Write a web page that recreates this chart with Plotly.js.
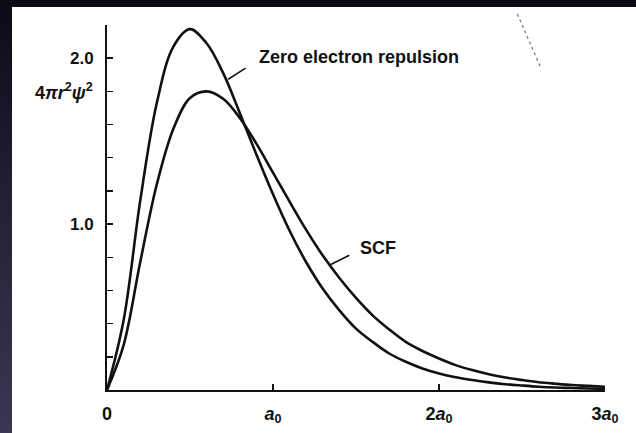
<!DOCTYPE html>
<html>
<head>
<meta charset="utf-8">
<script src="https://cdn.plot.ly/plotly-3.0.1.min.js"></script>
<style>
  html, body { margin: 0; padding: 0; width: 636px; height: 433px; overflow: hidden; background: #0b0b14; }
  #leftband { position: absolute; left: 0; top: 0; width: 12px; height: 433px;
              background: linear-gradient(to bottom, #0b0b16 0%, #242238 50%, #3b3652 100%); }
  #chart { position: absolute; left: 12px; top: 7px; width: 624px; height: 426px; background: #fff; }
</style>
</head>
<body>
<div id="leftband"></div>
<div id="chart"></div>
<script>
// radius in units of a0
const radius = [0, 0.1, 0.2, 0.3, 0.4, 0.5, 0.6, 0.7, 0.8, 0.9, 1.0, 1.1, 1.2, 1.3, 1.4, 1.5,
                1.6, 1.7, 1.8, 1.9, 2.0, 2.1, 2.2, 2.3, 2.4, 2.5, 2.6, 2.7, 2.8, 2.9, 3.0];
// radial density 4πr²ψ², no electron repulsion (taller, narrower)
const zeroRepulsion = [0, 0.42, 1.14, 1.73, 2.07, 2.175, 2.09, 1.91, 1.67, 1.42, 1.18, 0.96, 0.77, 0.61, 0.48, 0.37,
                       0.29, 0.22, 0.17, 0.13, 0.10, 0.077, 0.06, 0.046, 0.035, 0.027, 0.02, 0.015, 0.012, 0.009, 0.007];
// radial density, SCF (lower, wider)
const scf = [0, 0.27, 0.77, 1.24, 1.575, 1.76, 1.80, 1.755, 1.64, 1.485, 1.31, 1.135, 0.965, 0.81, 0.675, 0.555,
             0.45, 0.365, 0.29, 0.235, 0.19, 0.15, 0.12, 0.095, 0.075, 0.06, 0.047, 0.038, 0.03, 0.025, 0.02];

const xTickVals = [0, 1, 2, 3];
const xTickText = ['0', '<i>a</i><sub>0</sub>', '2<i>a</i><sub>0</sub>', '3<i>a</i><sub>0</sub>'];
const yTickVals = [1.0, 2.0];
const yTickText = ['1.0', '2.0'];
const yMinorTicks = [0.2, 0.4, 0.6, 0.8, 1.2, 1.4, 1.6, 1.8, 2.2];
const yLabel = '4<i>πr</i><sup>2</sup><i>ψ</i><sup>2</sup>';
const labelZero = 'Zero electron repulsion';
const labelScf = 'SCF';

const fam = 'Liberation Sans, Arial, sans-serif';
const lineStyle = { color: '#111', width: 2.6, shape: 'spline', smoothing: 1 };

const traces = [
  { x: radius, y: zeroRepulsion, type: 'scatter', mode: 'lines', line: lineStyle, name: labelZero, hoverinfo: 'skip' },
  { x: radius, y: scf, type: 'scatter', mode: 'lines', line: lineStyle, name: labelScf, hoverinfo: 'skip' }
];

const layout = {
  width: 624, height: 426,
  margin: { l: 95, r: 31, t: 18, b: 43 },
  paper_bgcolor: '#ffffff', plot_bgcolor: '#ffffff',
  showlegend: false,
  font: { family: fam, color: '#111', size: 17, weight: 700 },
  xaxis: {
    range: [0, 3], showgrid: false, zeroline: false,
    showline: true, linecolor: '#111', linewidth: 2,
    tickvals: xTickVals, ticktext: xTickText,
    ticks: 'inside', ticklen: 6, tickwidth: 1.5, tickcolor: '#111',
    ticklabelstandoff: 6,
    tickfont: { family: fam, size: 18, color: '#111', weight: 700 }
  },
  yaxis: {
    range: [0, 2.2], showgrid: false, zeroline: false,
    showline: true, linecolor: '#111', linewidth: 2,
    tickvals: yTickVals, ticktext: yTickText,
    ticks: 'inside', ticklen: 6, tickwidth: 1.5, tickcolor: '#111',
    minor: { tickvals: yMinorTicks, ticks: 'inside', ticklen: 6, tickwidth: 1.5, tickcolor: '#111', showgrid: false },
    ticklabelstandoff: 8,
    tickfont: { family: fam, size: 17, color: '#111', weight: 700 }
  },
  annotations: [
    { text: yLabel, xref: 'paper', yref: 'y', x: 0, y: 1.8, xanchor: 'right', yanchor: 'middle',
      xshift: -12, showarrow: false, font: { family: fam, size: 18, color: '#111', weight: 700 } },
    { text: labelZero, xref: 'x', yref: 'y', x: 0.905, y: 2.005, xanchor: 'left', yanchor: 'middle',
      showarrow: false, font: { family: fam, size: 18, color: '#111', weight: 700 } },
    { text: labelScf, xref: 'x', yref: 'y', x: 1.515, y: 0.855, xanchor: 'left', yanchor: 'middle',
      showarrow: false, font: { family: fam, size: 18, color: '#111', weight: 700 } }
  ],
  shapes: [
    { type: 'line', xref: 'x', yref: 'y', x0: 0.835, y0: 1.94, x1: 0.73, y1: 1.873, line: { color: '#111', width: 1.5 } },
    { type: 'line', xref: 'x', yref: 'y', x0: 1.46, y0: 0.812, x1: 1.339, y1: 0.752, line: { color: '#111', width: 1.5 } },
    { type: 'line', xref: 'paper', yref: 'paper', x0: 0.824, y0: 1.03, x1: 0.872, y1: 0.88, line: { color: '#777', width: 1.2, dash: 'dot' } }
  ]
};

Plotly.newPlot('chart', traces, layout, { staticPlot: true, displayModeBar: false });
</script>
</body>
</html>
